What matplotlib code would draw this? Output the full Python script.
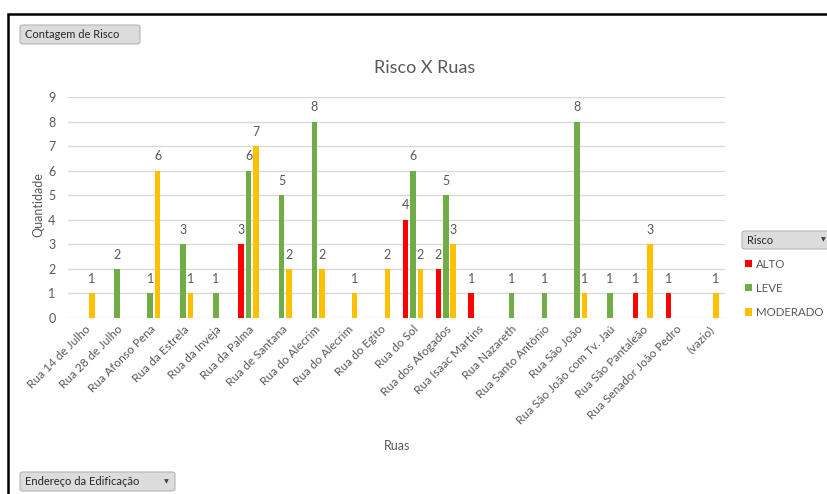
import numpy as np
import matplotlib
matplotlib.use('AGG')
import matplotlib.pyplot as plt
from matplotlib.patches import Rectangle, FancyBboxPatch

ruas = ["Rua 14 de Julho", "Rua 28 de Julho", "Rua Afonso Pena", "Rua da Estrela",
        "Rua da Inveja", "Rua da Palma", "Rua de Santana", "Rua do Alecrim",
        "Rua do Alecrim", "Rua do Egito", "Rua do Sol", "Rua dos Afogados",
        "Rua Isaac Martins", "Rua Nazareth", "Rua Santo Antônio", "Rua São João",
        "Rua São João com Tv. Jaú", "Rua São Pantaleão", "Rua Senador João Pedro", "(vazio)"]
alto = [0, 0, 0, 0, 0, 3, 0, 0, 0, 0, 4, 2, 1, 0, 0, 0, 0, 1, 1, 0]
leve = [0, 2, 1, 3, 1, 6, 5, 8, 0, 0, 6, 5, 0, 1, 1, 8, 1, 0, 0, 0]
moderado = [1, 0, 6, 1, 0, 7, 2, 2, 1, 2, 2, 3, 0, 0, 0, 1, 0, 3, 0, 1]
series_names = ["ALTO", "LEVE", "MODERADO"]
cores = ["#ff0000", "#70ad47", "#ffc000"]

plt.rcParams['font.family'] = ['Lato', 'DejaVu Sans']
cinza = "#595959"

W, H = 828, 494
fig = plt.figure(figsize=(W / 100, H / 100), dpi=100)

def fx(px):
    return px / W

def fy(py):
    return 1 - py / H

ax = fig.add_axes([fx(68), fy(318), fx(725) - fx(68), fy(97) - fy(318)])

x = np.arange(len(ruas))
width = 0.17
offset = 0.225
for i, (vals, nome, cor) in enumerate(zip([alto, leve, moderado], series_names, cores)):
    bars = ax.bar(x + (i - 1) * offset, vals, width, color=cor, label=nome, zorder=3)
    labels = [str(v) if v > 0 else "" for v in vals]
    ax.bar_label(bars, labels=labels, padding=6, color=cinza, fontsize=9)

ax.set_xlim(-0.5, len(ruas) - 0.5)
ax.set_ylim(0, 9)
ax.set_yticks(range(10))
ax.yaxis.grid(True, color="#d9d9d9", linewidth=1, zorder=0)
for s in ax.spines.values():
    s.set_visible(False)
ax.tick_params(axis='both', length=0, colors=cinza, labelsize=9)
ax.tick_params(axis='y', pad=9)
ax.set_xticks(x)
ax.set_xticklabels(ruas, rotation=45, ha='right', rotation_mode='anchor', fontsize=8.6, color=cinza)
ax.tick_params(axis='x', pad=4)

fig.text(fx(425), fy(68), "Risco X Ruas", ha='center', va='center', fontsize=13, color=cinza)
fig.text(fx(38), fy(205), "Quantidade", rotation=90, ha='center', va='center', fontsize=9, color=cinza)
fig.text(fx(397), fy(446), "Ruas", ha='center', va='center', fontsize=9, color=cinza)

# outer frame
fig.patches.append(Rectangle((fx(8), -0.1), 1.2, fy(14) + 0.1, transform=fig.transFigure,
                             fill=False, edgecolor="black", linewidth=1.8, zorder=0))

def botao(x0, y0, x1, y1, texto, seta=False):
    fig.patches.append(FancyBboxPatch((fx(x0), fy(y1)), fx(x1) - fx(x0), fy(y0) - fy(y1),
                                      boxstyle="round,pad=0,rounding_size=0.004",
                                      transform=fig.transFigure, facecolor="#dcdcdc",
                                      edgecolor="#b4b4b4", linewidth=0.8))
    fig.text(fx(x0 + 5), fy((y0 + y1) / 2), texto, ha='left', va='center', fontsize=8, color="#262626")
    if seta:
        fig.text(fx(x1 - 9), fy((y0 + y1) / 2), "▼", ha='center', va='center', fontsize=4.5,
                 color="#404040", family='DejaVu Sans')

botao(20, 25, 140, 44, "Contagem de Risco")
botao(20, 472, 175, 491, "Endereço da Edificação", seta=True)
botao(742, 231, 832, 249, "Risco", seta=True)

handles, labs = ax.get_legend_handles_labels()
leg = fig.legend(handles, labs, loc='upper left', bbox_to_anchor=(fx(740), fy(254)),
                 frameon=False, fontsize=8.3, labelcolor=cinza, handlelength=0.6, handleheight=0.6,
                 handletextpad=0.4, labelspacing=1.15, borderaxespad=0)

fig.savefig("out.png", dpi=100)
